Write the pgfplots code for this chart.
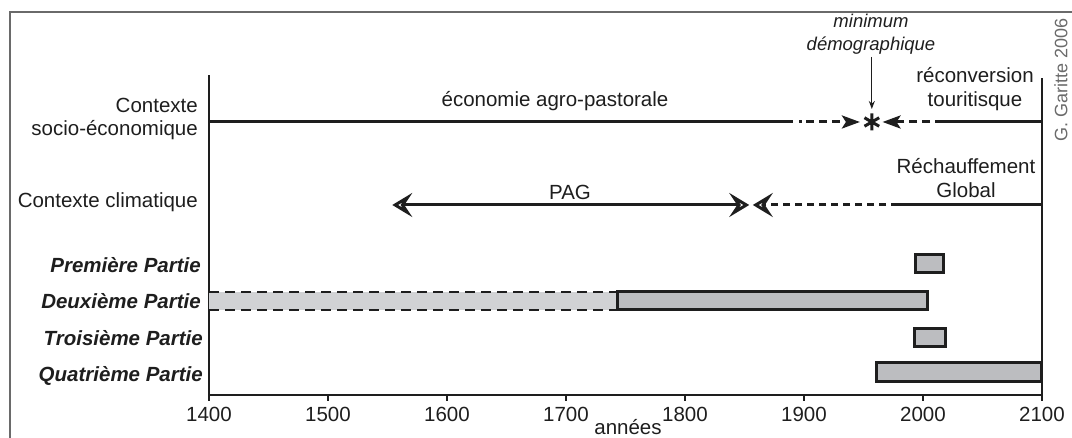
\documentclass[border=0pt]{standalone}
\usepackage{fontspec}
\setmainfont{Liberation Sans}
\usepackage{pgfplots}
\pgfplotsset{compat=1.18}
\usetikzlibrary{arrows.meta}
\definecolor{barG}{HTML}{BCBDC0}
\definecolor{barL}{HTML}{D1D2D4}
\definecolor{ink}{HTML}{1E1E1E}
\definecolor{frame}{HTML}{6A6A6A}
\newcommand{\fs}{\fontsize{20.5}{23.5}\selectfont}
\begin{document}
\begin{tikzpicture}[x=1pt,y=1pt]
\path[use as bounding box] (0,0) rectangle (1072,438);
\draw[line width=1.5pt, color=frame] (10,-5) -- (10,426) -- (1080,426);
\begin{axis}[
  at={(209pt,43pt)}, anchor=south west,
  scale only axis, width=833pt, height=320pt,
  xmin=1400, xmax=2100, ymin=43, ymax=363,
  axis x line=bottom, axis y line=none,
  x axis line style={-, line width=2pt, ink},
  xtick={1400,1500,...,2100},
  xtick align=outside, major tick length=6pt,
  tick style={line width=1.5pt, ink},
  xticklabel style={font=\fs, text=ink, yshift=-3pt},
  /pgf/number format/1000 sep={},
  /pgf/number format/assume math mode=true,
  clip=false,
]
% vertical frame lines
\addplot[ink, line width=2.5pt] coordinates {(1400,43) (1400,363)};
\addplot[ink, line width=2pt] coordinates {(2100,43) (2100,360)};
% socio-economic row
\addplot[ink, line width=3pt] coordinates {(1400,316) (1891,316)};
\addplot[ink, line width=3pt, dash pattern=on 0pt off 6pt on 3pt off 4pt on 8pt off 5pt on 8pt off 5pt on 8pt off 5pt,
  -{Stealth[length=18pt,width=13pt,inset=4pt]}] coordinates {(1891,316) (1947,316)};
\addplot[ink, line width=3pt, dash pattern=on 8pt off 5pt,
  -{Stealth[length=18pt,width=13pt,inset=4pt]}] coordinates {(2017,316) (1966,316)};
\addplot[ink, line width=3pt] coordinates {(2017,316) (2100,316)};
\addplot[ink, only marks, mark=asterisk, mark size=8.5pt, line width=3pt] coordinates {(1957,316)};
\addplot[ink, line width=1.3pt, -{Stealth[length=8pt,width=6pt]}] coordinates {(1957,381) (1957,329)};
% climatic row
\addplot[ink, line width=3pt, {Stealth[open,length=20pt,width=24pt,inset=8pt]}-{Stealth[open,length=20pt,width=24pt,inset=8pt]}] coordinates {(1554,233) (1854,233)};
\addplot[ink, line width=3pt, dash pattern=on 7pt off 5pt,
  -{Stealth[open,length=20pt,width=24pt,inset=8pt]}] coordinates {(1979,233) (1857,233)};
\addplot[ink, line width=3pt] coordinates {(1979,233) (2100,233)};
% bars
\addplot[draw=none, fill=barL] coordinates {(1400,128) (1743,128) (1743,146) (1400,146)} -- cycle;
\addplot[ink, line width=2.5pt, dash pattern=on 10pt off 6pt] coordinates {(1400,146) (1743,146)};
\addplot[ink, line width=2.5pt, dash pattern=on 10pt off 6pt] coordinates {(1400,128) (1743,128)};
\addplot[draw=ink, line width=3pt, fill=barG] coordinates {(1743,128) (2004,128) (2004,146) (1743,146)} -- cycle;
\addplot[draw=ink, line width=3pt, fill=barG] coordinates {(1994,165) (2017,165) (2017,183) (1994,183)} -- cycle;
\addplot[draw=ink, line width=3pt, fill=barG] coordinates {(1993,91) (2019,91) (2019,109) (1993,109)} -- cycle;
\addplot[draw=ink, line width=3pt, fill=barG] coordinates {(1961,56) (2100,56) (2100,75) (1961,75)} -- cycle;
\end{axis}
% labels
\begin{scope}[every node/.style={inner sep=0pt, text=ink, font=\fs}]
\node[anchor=east, align=right] at (198,319) {Contexte\\socio-économique};
\node[anchor=east] at (198,236) {Contexte climatique};
\node[anchor=east, font=\fs\bfseries\itshape] at (201,173) {Première Partie};
\node[anchor=east, font=\fs\bfseries\itshape] at (201,137) {Deuxième Partie};
\node[anchor=east, font=\fs\bfseries\itshape] at (203,100) {Troisième Partie};
\node[anchor=east, font=\fs\bfseries\itshape] at (203,62) {Quatrième Partie};
\node at (555,337) {économie agro-pastorale};
\node at (570,246) {PAG};
\node[align=center] at (966,260) {Réchauffement\\Global};
\node[align=center] at (975,349) {réconversion\\touritisque};
\node[align=center, font=\fontsize{18.5}{23}\selectfont\itshape] at (871,404) {minimum\\démographique};
\node at (628,11) {années};
\node[rotate=90, font=\fontsize{18}{20}\selectfont, text=frame] at (1061,358) {G. Garitte 2006};
\end{scope}
\end{tikzpicture}
\end{document}
